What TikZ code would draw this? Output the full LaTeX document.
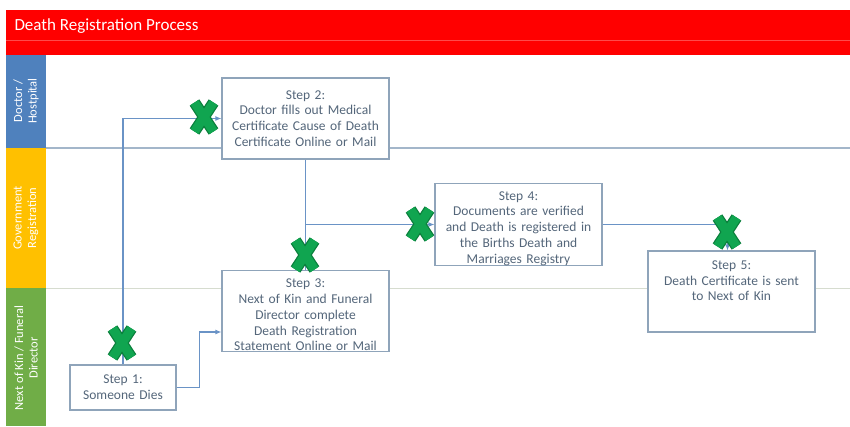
\documentclass[tikz,border=0pt]{standalone}
\usepackage{fontspec}
\setmainfont{Carlito}
\usetikzlibrary{arrows.meta}
\definecolor{titlered}{HTML}{FF0000}
\definecolor{titleline}{HTML}{FF4A4A}
\definecolor{laneblue}{HTML}{4F81BD}
\definecolor{laneyellow}{HTML}{FFC000}
\definecolor{lanegreen}{HTML}{70AD47}
\definecolor{boxedge}{HTML}{8FA4BA}
\definecolor{boxtext}{HTML}{54667A}
\definecolor{flow}{HTML}{6A93C6}
\definecolor{sepblue}{HTML}{A3B6CA}
\definecolor{sepgray}{HTML}{D6DCCF}
\definecolor{xgreen}{HTML}{10A550}
\definecolor{xdark}{HTML}{0B7F3C}
\tikzset{
  stepbox/.style={draw=boxedge, line width=1.1pt, fill=white, inner sep=0pt,
    minimum width=167pt, minimum height=81pt, align=center, text width=165pt,
    text=boxtext, font=\fontsize{13.5}{15.8}\selectfont},
  lanelabel/.style={rotate=90, align=center, text=white,
    font=\fontsize{12.5}{14.5}\selectfont},
  flowline/.style={draw=flow, line width=1.1pt},
  flowarrow/.style={flowline, -{Latex[length=6pt,width=5pt]}},
  xmark/.pic={
    \draw[xdark, line width=11.5pt] (-9.5,-14.5) -- (9.5,14.5) (-9.5,14.5) -- (9.5,-14.5);
    \draw[xgreen, line width=9pt] (-9.5,-14.5) -- (9.5,14.5) (-9.5,14.5) -- (9.5,-14.5);
  }
}
\begin{document}
\begin{tikzpicture}[x=1pt, y=-1pt]
\useasboundingbox (0,0) rectangle (850,426);
% title bar
\fill[titlered] (6,10) rectangle (850,55);
\draw[titleline, line width=0.7pt] (6,40) -- (850,40);
\node[anchor=base west, text=white, font=\fontsize{17}{20}\selectfont] (title) at (11,30) {Death Registration Process};
% swim lane headers
\fill[laneblue] (6,55) rectangle (46,148);
\fill[laneyellow] (6,148) rectangle (46,288);
\fill[lanegreen] (6,288) rectangle (46,426);
\node[lanelabel] (lane1) at (26,101) {Doctor /\\Hostpital};
\node[lanelabel] (lane2) at (26,218) {Government\\Registration};
\node[lanelabel] (lane3) at (26,358) {Next of Kin / Funeral\\Director};
% lane separators
\draw[sepblue, line width=1.2pt] (46,148) -- (850,148);
\draw[sepgray, line width=1pt] (46,288) -- (850,288);
% process steps
\node[stepbox] (s2) at (305.5,118.5) {Step 2:\\Doctor fills out Medical\\Certificate Cause of Death\\Certificate Online or Mail};
\node[stepbox] (s4) at (518.5,224.5) {\parbox[c][80pt][b]{165pt}{\centering Step 4:\\Documents are verified\\and Death is registered in\\the Births Death and\\Marriages Registry}};
\node[stepbox] (s3) at (305.5,311) {\parbox[c][80pt][b]{165pt}{\centering Step 3:\\Next of Kin and Funeral\\Director complete\\Death Registration\\Statement Online or Mail}};
\node[stepbox] (s5) at (731.5,291.5) {\parbox[c][72pt][t]{165pt}{\centering\vspace{5pt}Step 5:\\Death Certificate is sent\\to Next of Kin}};
\node[stepbox, minimum width=106pt, minimum height=45pt, text width=104pt] (s1) at (123,387.5) {Step 1:\\Someone Dies};
% connectors
\draw[flowarrow] (s1.north) |- (s2.west);
\draw[flowarrow] (s1.east) -- ++(23,0) |- ([yshift=-21pt]s3.west);
\draw[flowline] (s2.south) -- (s3.north);
\draw[flowarrow] (s2.south |- s4.west) -- (s4.west);
\draw[flowarrow] (s4.east) -| ([xshift=-4pt]s5.north);
% status marks
\pic at (204,117) {xmark};
\pic at (305,255) {xmark};
\pic at (420,224) {xmark};
\pic at (727,232) {xmark};
\pic at (122,343) {xmark};
\end{tikzpicture}
\end{document}
